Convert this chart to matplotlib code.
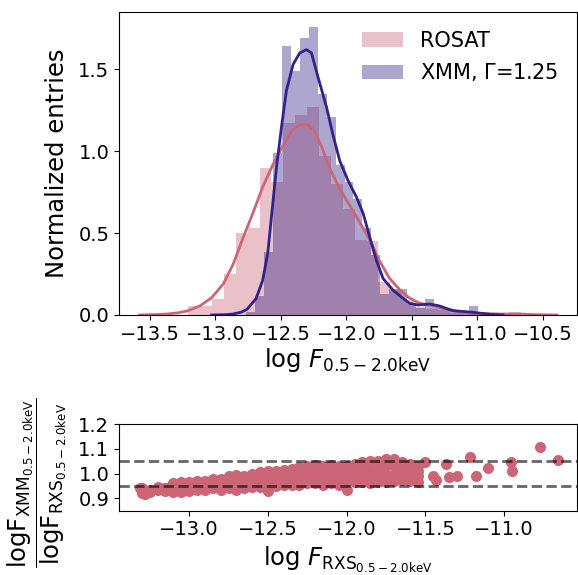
import numpy as np
import matplotlib
matplotlib.use("Agg")
import matplotlib.pyplot as plt

rose = "#CC6677"
indigo = "#332288"

# histogram of log F (normalized)
rosat_range = (-13.208, -10.666)
rosat_heights = [0.055, 0.055, 0.096, 0.25, 0.50, 0.53, 0.90, 0.81, 1.17, 1.22,
                 1.27, 0.97, 0.80, 0.65, 0.46, 0.45, 0.20, 0.15, 0.09, 0.05,
                 0.035, 0.03, 0.015, 0.01, 0.005, 0.0, 0.0, 0.016]
xmm_range = (-12.764, -10.992)
xmm_heights = [0.02, 0.116, 0.386, 0.99, 1.64, 1.49, 1.69, 1.76, 1.35, 1.21,
               0.915, 0.81, 0.707, 0.53, 0.366, 0.13, 0.16, 0.16, 0.07, 0.04,
               0.10, 0.04, 0.03, 0.02, 0.02, 0.055]

# kde curves
rosat_kde_x = [-13.58, -13.45, -13.37, -13.28, -13.21, -13.12, -13.03, -12.94, -12.865,
               -12.79, -12.71, -12.64, -12.56, -12.48, -12.41, -12.36, -12.30, -12.25,
               -12.19, -12.13, -12.05, -11.975, -11.90, -11.82, -11.75, -11.67, -11.59,
               -11.52, -11.44, -11.36, -11.26, -11.135, -11.01, -10.83, -10.68, -10.55, -10.39]
rosat_kde_y = [0.0, 0.003, 0.006, 0.014, 0.026, 0.055, 0.105, 0.19, 0.31,
               0.47, 0.63, 0.78, 0.92, 1.04, 1.13, 1.16, 1.163, 1.13,
               1.03, 0.90, 0.77, 0.67, 0.57, 0.456, 0.335, 0.223, 0.152,
               0.105, 0.071, 0.061, 0.04, 0.02, 0.01, 0.006, 0.006, 0.002, 0.0]
xmm_kde_x = [-13.03, -12.92, -12.865, -12.80, -12.76, -12.69, -12.64, -12.60, -12.57,
             -12.534, -12.496, -12.458, -12.407, -12.356, -12.305, -12.267, -12.216,
             -12.152, -12.101, -12.05, -11.987, -11.923, -11.872, -11.822, -11.771,
             -11.72, -11.644, -11.58, -11.517, -11.453, -11.364, -11.288, -11.186,
             -11.084, -11.008, -10.906, -10.804]
xmm_kde_y = [0.0, 0.002, 0.006, 0.018, 0.034, 0.10, 0.21, 0.38, 0.62,
             0.90, 1.146, 1.37, 1.53, 1.60, 1.62, 1.60, 1.45,
             1.27, 1.095, 0.94, 0.82, 0.72, 0.62, 0.477, 0.335,
             0.223, 0.152, 0.11, 0.071, 0.061, 0.067, 0.055, 0.026,
             0.02, 0.014, 0.004, 0.0]

# ratio scatter: columns of the dense band (low, two middle, high) plus loose points
band_x = [-13.30, -13.25, -13.20, -13.15, -13.10, -13.05, -13.00, -12.95, -12.90,
          -12.85, -12.80, -12.75, -12.70, -12.65, -12.60, -12.55, -12.50, -12.45,
          -12.40, -12.35, -12.30, -12.25, -12.20, -12.15, -12.10, -12.05, -12.00,
          -11.95, -11.90, -11.85, -11.80, -11.75, -11.70, -11.65, -11.60, -11.55]
band_lo = [0.92, 0.925, 0.935, 0.93, 0.925, 0.925, 0.93, 0.935, 0.935,
           0.94, 0.935, 0.94, 0.935, 0.94, 0.945, 0.945, 0.93, 0.95,
           0.955, 0.955, 0.955, 0.96, 0.96, 0.955, 0.96, 0.955, 0.935,
           0.965, 0.965, 0.96, 0.965, 0.965, 0.97, 0.975, 0.97, 0.965]
band_m1 = [0.93, 0.93, 0.94, 0.935, 0.94, 0.94, 0.94, 0.945, 0.945,
           0.95, 0.95, 0.955, 0.955, 0.955, 0.96, 0.965, 0.955, 0.97,
           0.975, 0.975, 0.98, 0.985, 0.985, 0.98, 0.985, 0.98, 0.965,
           0.99, 0.99, 0.99, 0.995, 0.995, 1.0, 1.0, 0.995, 0.99]
band_m2 = [0.935, 0.93, 0.94, 0.94, 0.95, 0.955, 0.955, 0.96, 0.96,
           0.965, 0.965, 0.975, 0.975, 0.975, 0.98, 0.985, 0.985, 0.99,
           0.995, 1.0, 1.0, 1.005, 1.01, 1.005, 1.01, 1.005, 1.0,
           1.015, 1.02, 1.02, 1.02, 1.03, 1.03, 1.025, 1.02, 1.01]
band_hi = [0.94, 0.935, 0.945, 0.94, 0.96, 0.965, 0.965, 0.97, 0.97,
           0.98, 0.98, 0.99, 0.995, 0.99, 1.0, 1.005, 1.01, 1.01,
           1.015, 1.02, 1.025, 1.03, 1.035, 1.03, 1.035, 1.03, 1.03,
           1.04, 1.045, 1.05, 1.05, 1.06, 1.06, 1.045, 1.04, 1.03]
loose_x = [-13.31, -13.28, -11.50, -11.45, -11.43, -11.37, -11.35, -11.30, -11.22,
           -11.18, -11.10, -10.96, -10.95, -10.77, -10.66]
loose_y = [0.94, 0.917, 1.045, 0.99, 0.975, 1.04, 0.985, 0.99, 1.065,
           0.99, 1.024, 1.047, 1.01, 1.107, 1.055]

plt.rcParams["xtick.labelsize"] = 14
plt.rcParams["ytick.labelsize"] = 14

fig = plt.figure(figsize=(5.78, 5.75), dpi=100)
ax1 = fig.add_axes([0.2059, 0.4522, 0.7924, 0.527])
ax2 = fig.add_axes([0.2059, 0.1118, 0.7924, 0.1508])

edges = np.linspace(rosat_range[0], rosat_range[1], len(rosat_heights) + 1)
ax1.bar(edges[:-1], rosat_heights, width=np.diff(edges), align="edge",
        color=rose, alpha=0.4, linewidth=0, label="ROSAT")
ax1.plot(rosat_kde_x, rosat_kde_y, color=rose, lw=2)
edges = np.linspace(xmm_range[0], xmm_range[1], len(xmm_heights) + 1)
ax1.bar(edges[:-1], xmm_heights, width=np.diff(edges), align="edge",
        color=indigo, alpha=0.4, linewidth=0, label=r"XMM, $\Gamma$=1.25")
ax1.plot(xmm_kde_x, xmm_kde_y, color=indigo, lw=2)

ax1.set_xlim(-13.737, -10.238)
ax1.set_ylim(0, 1.85)
ax1.set_yticks([0, 0.5, 1.0, 1.5])
ax1.set_xlabel(r"log $F_{0.5-2.0\mathrm{keV}}$", fontsize=17.5, labelpad=2)
ax1.set_ylabel("Normalized entries", fontsize=17.5)
ax1.yaxis.set_label_coords(-0.11, 0.5)
ax1.legend(loc="upper right", fontsize=15, frameon=False)

sx = []
sy = []
for ys in (band_lo, band_m1, band_m2, band_hi):
    sx += band_x
    sy += ys
sx += loose_x
sy += loose_y
ax2.scatter(sx, sy, s=64, color=rose, linewidths=0, zorder=2)
ax2.axhline(1.05, color="k", ls="--", lw=2, alpha=0.6, zorder=3)
ax2.axhline(0.95, color="k", ls="--", lw=2, alpha=0.6, zorder=3)
ax2.set_xlim(-13.445, -10.538)
ax2.set_ylim(0.85, 1.2)
ax2.set_yticks([0.9, 1.0, 1.1, 1.2])
ax2.set_xticks([-13.0, -12.5, -12.0, -11.5, -11.0])
ax2.set_xlabel(r"log $F_{\mathrm{RXS}_{0.5-2.0\mathrm{keV}}}$", fontsize=17.5, labelpad=4)
ax2.set_ylabel(r"$\dfrac{\mathrm{logF_{XMM_{0.5-2.0keV}}}}{\mathrm{logF_{RXS_{0.5-2.0keV}}}}$",
               fontsize=17.5)
ax2.yaxis.set_label_coords(-0.11, 0.32)

fig.savefig("out.png", dpi=100)
